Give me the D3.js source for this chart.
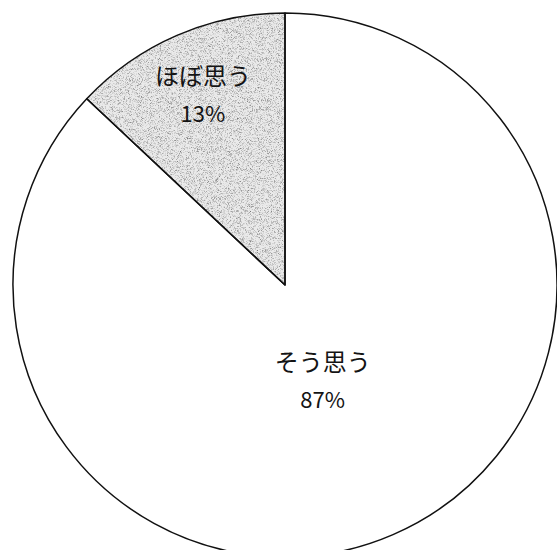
<!DOCTYPE html>
<html>
<head>
<meta charset="utf-8">
<script src="https://cdn.jsdelivr.net/npm/d3@7"></script>
<style>
  html, body { margin: 0; padding: 0; background: #fff; }
  svg { display: block; }
</style>
</head>
<body>
<svg id="chart" width="557" height="550"></svg>
<script>
// Survey answers and their shares (%)
const categories = ["そう思う", "ほぼ思う"];
const shares = [87, 13];
const fills = ["#ffffff", "#eaeaea"];

const width = 557, height = 550;
const cx = 285, cy = 285, radius = 272;

const svg = d3.select("#chart");

// Fine grainy stipple used on the shaded slice
const defs = svg.append("defs");
const grain = defs.append("filter").attr("id", "grain")
  .attr("color-interpolation-filters", "sRGB")
  .attr("x", 0).attr("y", 0).attr("width", "100%").attr("height", "100%");
grain.append("feTurbulence").attr("type", "fractalNoise")
  .attr("baseFrequency", 1.9).attr("numOctaves", 2).attr("seed", 7).attr("result", "noise");
grain.append("feColorMatrix").attr("in", "noise").attr("type", "matrix")
  .attr("values", "0 0 0 0 0  0 0 0 0 0  0 0 0 0 0  2.4 0 0 0 -1.15")
  .attr("result", "dots");
grain.append("feComposite").attr("in", "dots").attr("in2", "SourceGraphic").attr("operator", "in");

const data = categories.map((c, i) => ({ name: c, value: shares[i], fill: fills[i] }));

const pie = d3.pie().sort(null).value(d => d.value);
const arcs = pie(data);
const arc = d3.arc().innerRadius(0).outerRadius(radius);

const g = svg.append("g").attr("transform", `translate(${cx},${cy})`);

g.selectAll("path.slice")
  .data(arcs)
  .join("path")
  .attr("class", "slice")
  .attr("d", arc)
  .attr("fill", d => d.data.fill);

// noise overlay on shaded slices only
g.selectAll("path.grain")
  .data(arcs.filter(d => d.data.fill !== "#ffffff"))
  .join("path")
  .attr("class", "grain")
  .attr("d", arc)
  .attr("fill", "#8a8a8a")
  .attr("opacity", 0.5)
  .attr("filter", "url(#grain)");

g.selectAll("path.edge")
  .data(arcs)
  .join("path")
  .attr("class", "edge")
  .attr("d", arc)
  .attr("fill", "none")
  .attr("stroke", "#111")
  .attr("stroke-width", 1.5)
  .attr("stroke-linejoin", "round");

// Label placement: radius fraction and nudge per slice
const labelArc = [
  { r: 0.386, dx: -4, dy: 0 },
  { r: 0.76, dx: 0, dy: 0 }
];

const labels = g.selectAll("g.label")
  .data(arcs)
  .join("g")
  .attr("class", "label")
  .attr("transform", (d, i) => {
    const lr = radius * labelArc[i].r;
    const c = d3.arc().innerRadius(lr).outerRadius(lr).centroid(d);
    return `translate(${c[0] + labelArc[i].dx},${c[1] + labelArc[i].dy})`;
  });

labels.append("text")
  .attr("text-anchor", "middle")
  .attr("y", -10)
  .attr("font-family", "'Noto Sans CJK JP', 'Noto Sans', sans-serif")
  .attr("font-size", 24)
  .attr("fill", "#141414")
  .text(d => d.data.name);

labels.append("text")
  .attr("text-anchor", "middle")
  .attr("y", 27)
  .attr("font-family", "'Noto Sans CJK JP', 'Noto Sans', sans-serif")
  .attr("font-size", 22)
  .attr("fill", "#141414")
  .text(d => d.data.value + "%");
</script>
</body>
</html>
